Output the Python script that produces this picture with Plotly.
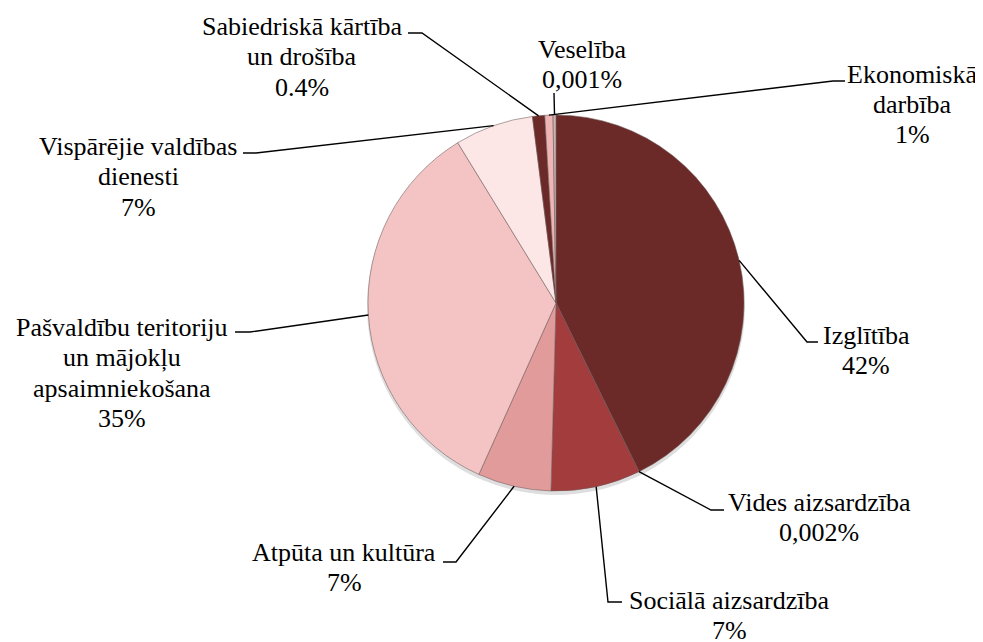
import plotly.graph_objects as go
import math

# ---- data ----
categories = ["Izglītība", "Vides aizsardzība", "Sociālā aizsardzība", "Atpūta un kultūra",
              "Pašvaldību teritoriju un mājokļu apsaimniekošana", "Vispārējie valdības dienesti",
              "Sabiedriskā kārtība un drošība", "Ekonomiskā darbība", "Veselība"]
values = [42.7, 0.002, 7.7, 6.3, 34.5, 6.75, 1.05, 0.7, 0.25]
pct_text = ["42%", "0,002%", "7%", "7%", "35%", "7%", "0.4%", "1%", "0,001%"]
name_lines = [["Izglītība"], ["Vides aizsardzība"], ["Sociālā aizsardzība"], ["Atpūta un kultūra"],
              ["Pašvaldību teritoriju", "un mājokļu", "apsaimniekošana"],
              ["Vispārējie valdības", "dienesti"], ["Sabiedriskā kārtība", "un drošība"],
              ["Ekonomiskā", "darbība"], ["Veselība"]]

# ---- style / layout ----
colors = ["#6B2A28", "#A8A0A0", "#A33C3C", "#E29B9B", "#F4C4C4", "#FCE6E6", "#6B2A28", "#EFB5B5", "#C9B4B4"]
OFF = 8                      # page body margin
W, H = 983 - OFF, 642 - OFF  # figure size
CX, CY, R = 556, 303, 188    # pie geometry in window pixels
FONT = "Liberation Serif, 'Times New Roman', Times, serif"
FS = 26
LSP = 30.5
label_pos = [(866, 335), (819, 502), (729, 600), (344, 552), (122, 327), (138, 146), (302, 26), (912, 74), (582, 49)]
hooks = [((807, 342), (818, 342)), ((711, 510), (724, 510)), ((608, 602), (622, 602)),
         ((456, 562), (443, 562)), ((250, 332), (235, 332)), ((256, 153), (243, 153)),
         ((422, 33), (408, 33)), ((833, 81), (845, 81)), ((554, 93), (554, 93))]

def px(x):
    return (x - OFF) / W

def py(y):
    return 1 - (y - OFF) / H

fig = go.Figure()
fig.add_trace(go.Pie(
    labels=categories, values=values, sort=False, direction="clockwise", rotation=0,
    marker=dict(colors=colors, line=dict(color="rgba(110,90,90,0.55)", width=1)),
    textinfo="none", hoverinfo="label+percent", showlegend=False,
    domain=dict(x=[px(CX - R), px(CX + R)], y=[py(CY + R), py(CY - R)]),
))

# soft shadow under the pie
fig.add_shape(type="circle", xref="paper", yref="paper", layer="below",
              x0=px(CX - R - 1), x1=px(CX + R + 1), y0=py(CY + R + 4), y1=py(CY - R + 2),
              fillcolor="rgba(0,0,0,0.13)", line=dict(width=0))

total = sum(values)
cum = 0.0
for i, v in enumerate(values):
    mid = (cum + v / 2) / total
    cum += v
    th = 2 * math.pi * mid
    ex, ey = CX + R * math.sin(th), CY - R * math.cos(th)
    (bx, by), (hx, hy) = hooks[i]
    path = f"M {px(ex)},{py(ey)} L {px(bx)},{py(by)} L {px(hx)},{py(hy)}"
    fig.add_shape(type="path", path=path, xref="paper", yref="paper",
                  line=dict(color="black", width=1.4))
    lx, ly = label_pos[i]
    lines = name_lines[i] + [pct_text[i]]
    for k, t in enumerate(lines):
        fig.add_annotation(text=t, x=px(lx), y=py(ly + k * LSP), xref="paper", yref="paper",
                           xanchor="center", yanchor="middle", showarrow=False,
                           font=dict(family=FONT, size=FS, color="black"))

fig.update_layout(width=W, height=H, margin=dict(l=0, r=0, t=0, b=0),
                  paper_bgcolor="white", plot_bgcolor="white")
fig.write_html("out.html")
